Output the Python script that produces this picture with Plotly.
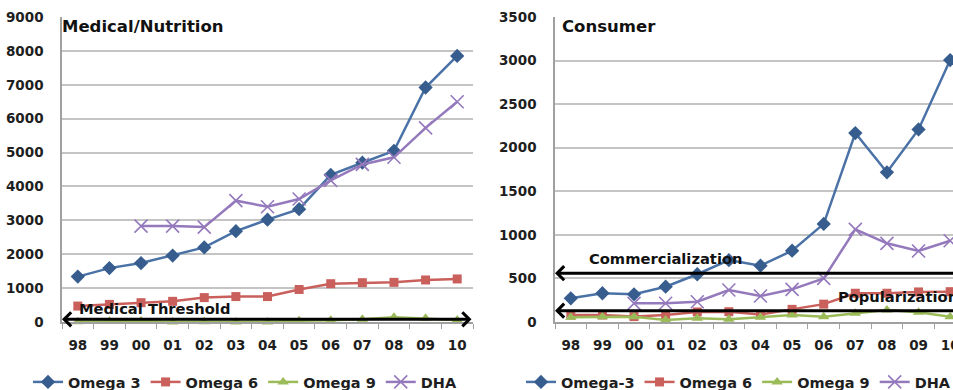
import plotly.graph_objects as go

years = ["98", "99", "00", "01", "02", "03", "04", "05", "06", "07", "08", "09", "10"]

# Medical/Nutrition panel
med_omega3 = [1340, 1590, 1740, 1960, 2200, 2680, 3020, 3330, 4340, 4700, 5050, 6920, 7850]
med_omega6 = [470, 520, 570, 610, 720, 750, 750, 960, 1130, 1160, 1170, 1240, 1270]
med_omega9 = [10, 20, 30, 0, 10, 0, 0, 40, 50, 80, 140, 110, 60]
med_dha = [None, None, 2830, 2830, 2800, 3580, 3400, 3630, 4180, 4650, 4860, 5730, 6500]

# Consumer panel
con_omega3 = [272, 330, 318, 405, 548, 710, 646, 818, 1126, 2168, 1718, 2210, 3006]
con_omega6 = [80, 80, 62, 80, 115, 118, 85, 145, 205, 330, 330, 345, 348]
con_omega9 = [54, 60, 60, 23, 42, 31, 54, 80, 61, 100, 138, 111, 61]
con_dha = [None, None, 214, 215, 233, 367, 298, 375, 501, 1063, 903, 815, 933]

left_names = ["Omega 3", "Omega 6", "Omega 9", "DHA"]
right_names = ["Omega-3", "Omega 6", "Omega 9", "DHA"]

FONT = "DejaVu Sans, Liberation Sans, Arial, sans-serif"
W, H = 953, 390

styles = [
    dict(line=dict(color="#4A72A6", width=2.5), marker=dict(symbol="diamond", size=11, color="#365D8D")),
    dict(line=dict(color="#C9605C", width=2.5), marker=dict(symbol="square", size=9, color="#C9605C")),
    dict(line=dict(color="#9BBB59", width=2.5), marker=dict(symbol="triangle-up", size=10, color="#9BBB59")),
    dict(line=dict(color="#9479BC", width=2.5), marker=dict(symbol="x-thin-open", size=13, color="#9479BC", line=dict(width=1.6, color="#9479BC"))),
]

fig = go.Figure()
for name, vals, st in zip(left_names, [med_omega3, med_omega6, med_omega9, med_dha], styles):
    fig.add_trace(go.Scatter(x=years, y=vals, name=name, mode="lines+markers",
                             xaxis="x", yaxis="y", legend="legend", cliponaxis=False,
                             connectgaps=False, **st))
for name, vals, st in zip(right_names, [con_omega3, con_omega6, con_omega9, con_dha], styles):
    fig.add_trace(go.Scatter(x=years, y=vals, name=name, mode="lines+markers",
                             xaxis="x2", yaxis="y2", legend="legend2", cliponaxis=False,
                             connectgaps=False, **st))

ydom = [68 / H, 373 / H]
tickfont = dict(family=FONT, size=13.5, color="#1E1E1E", weight="bold")
grid = "#C4C4C4"

xcommon = dict(type="category", tickson="boundaries", ticks="outside", ticklen=5,
               tickcolor="#A0A0A0", showline=True, linecolor="#A0A0A0", linewidth=1.5,
               showgrid=False, tickfont=tickfont, ticklabelstandoff=10, zeroline=False,
               fixedrange=True)
ycommon = dict(showgrid=True, gridcolor=grid, gridwidth=2, showline=True, linecolor="#A0A0A0",
               linewidth=1.5, tickfont=tickfont, ticks="", ticklabelstandoff=14,
               zeroline=False, domain=ydom)

legfont = dict(family=FONT, size=14.5, color="#1E1E1E", weight="bold")
fig.update_layout(
    width=W, height=H,
    margin=dict(l=0, r=0, t=0, b=0, autoexpand=False),
    paper_bgcolor="white", plot_bgcolor="white",
    font=dict(family=FONT),
    xaxis=dict(domain=[62 / W, 473 / W], anchor="y", range=[-0.5, 12.5], **xcommon),
    yaxis=dict(anchor="x", range=[0, 9000], dtick=1000, **ycommon),
    xaxis2=dict(domain=[555 / W, 1.0], anchor="y2", range=[-0.5, 12.09], **xcommon),
    yaxis2=dict(anchor="x2", range=[0, 3500], dtick=500, **ycommon),
    legend=dict(orientation="h", x=28 / W, xanchor="left", y=(H - 382) / H, yanchor="middle",
                font=legfont, bgcolor="rgba(0,0,0,0)", itemwidth=30, tracegroupgap=0),
    legend2=dict(orientation="h", x=521 / W, xanchor="left", y=(H - 382) / H, yanchor="middle",
                 font=legfont, bgcolor="rgba(0,0,0,0)", itemwidth=30, tracegroupgap=0),
    showlegend=True,
)

ann = []
titlefont = dict(family=FONT, size=16.5, color="#111111", weight="bold")
labelfont = dict(family=FONT, size=14.7, color="#111111", weight="bold")
ann.append(dict(text="Medical/Nutrition", xref="paper", yref="paper", x=60 / W, y=(H - 27) / H,
                xanchor="left", yanchor="middle", showarrow=False, font=titlefont))
ann.append(dict(text="Consumer", xref="paper", yref="paper", x=560 / W, y=(H - 27) / H,
                xanchor="left", yanchor="middle", showarrow=False, font=titlefont))

# arrows
ann.append(dict(x=-0.5, y=80, ax=12.5, ay=80, xref="x", yref="y", axref="x", ayref="y",
                text="", showarrow=True, arrowhead=4, arrowside="end+start", arrowsize=0.9,
                arrowwidth=3, arrowcolor="#000000", standoff=0, startstandoff=0))
ann.append(dict(x=-0.5, y=560, ax=12.6, ay=560, xref="x2", yref="y2", axref="x2", ayref="y2",
                text="", showarrow=True, arrowhead=4, arrowsize=0.9,
                arrowwidth=3, arrowcolor="#000000", standoff=0))
ann.append(dict(x=-0.5, y=130, ax=12.6, ay=130, xref="x2", yref="y2", axref="x2", ayref="y2",
                text="", showarrow=True, arrowhead=4, arrowsize=0.9,
                arrowwidth=3, arrowcolor="#000000", standoff=0))

ann.append(dict(text="Medical Threshold", x=-0.03, y=384, xref="x", yref="y", xanchor="left",
                yanchor="middle", showarrow=False, font=labelfont))
ann.append(dict(text="Commercialization", x=0.52, y=734, xref="x2", yref="y2", xanchor="left",
                yanchor="middle", showarrow=False, font=labelfont))
ann.append(dict(text="Popularization", x=8.38, y=290, xref="x2", yref="y2", xanchor="left",
                yanchor="middle", showarrow=False, font=labelfont))

fig.update_layout(annotations=ann)

fig.write_html("out.html")
